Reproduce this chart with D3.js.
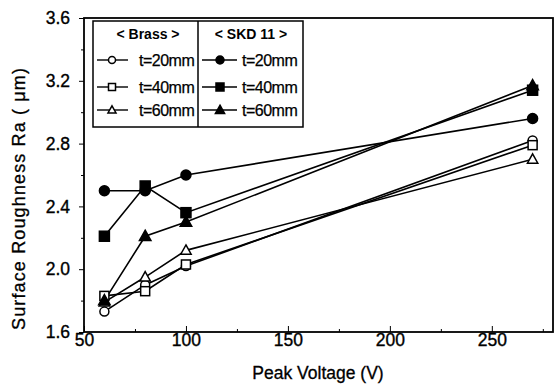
<!DOCTYPE html>
<html><head><meta charset="utf-8">
<script src="https://cdn.jsdelivr.net/npm/d3@7"></script>
<style>body{margin:0;background:#fff}text{font-family:"Liberation Sans",Arial,sans-serif;fill:#000}</style>
</head><body><svg id="c" width="555" height="392"></svg>
<script>
const voltages = [60, 80, 100, 270];
const brass20 = [1.73, 1.90, 2.02, 2.82];
const brass40 = [1.83, 1.86, 2.03, 2.79];
const brass60 = [1.79, 1.95, 2.12, 2.70];
const skd20 = [2.50, 2.50, 2.60, 2.96];
const skd40 = [2.21, 2.53, 2.36, 3.14];
const skd60 = [1.80, 2.21, 2.30, 3.17];
const xTicks = [50, 100, 150, 200, 250];
const yTicks = [1.6, 2.0, 2.4, 2.8, 3.2, 3.6];
const legendLabels = ["t=20mm", "t=40mm", "t=60mm"];

const series = [
  {v: brass20, shape: "circle", fill: false},
  {v: brass40, shape: "square", fill: false},
  {v: brass60, shape: "triangle", fill: false},
  {v: skd20, shape: "circle", fill: true},
  {v: skd40, shape: "square", fill: true},
  {v: skd60, shape: "triangle", fill: true}
];

const svg = d3.select("#c");
const L = 84, R = 553, T = 18, B = 332;
const x = d3.scaleLinear().domain([50, 280]).range([L, R]);
const y = d3.scaleLinear().domain([1.6, 3.6]).range([B, T]);

// frame
svg.append("rect").attr("x", L).attr("y", T).attr("width", R - L).attr("height", B - T)
  .attr("fill", "none").attr("stroke", "#000").attr("stroke-width", 1.8);

// x axis: ticks inward
const xa = svg.append("g").attr("transform", `translate(0,${B})`)
  .call(d3.axisBottom(x).tickValues(xTicks).tickSize(-6).tickPadding(2).tickFormat(d3.format("d")));
xa.select(".domain").remove();
xa.selectAll("text").attr("font-size", 17.5).attr("stroke", "#000").attr("stroke-width", 0.35);
svg.append("g").attr("transform", `translate(0,${B})`)
  .call(d3.axisBottom(x).tickValues([75,125,175,225,275]).tickSize(-3).tickFormat(""))
  .select(".domain").remove();

// y axis: ticks outward
const ya = svg.append("g").attr("transform", `translate(${L},0)`)
  .call(d3.axisLeft(y).tickValues(yTicks).tickSize(5).tickPadding(9).tickFormat(d3.format(".1f")));
ya.select(".domain").remove();
ya.selectAll("text").attr("font-size", 17.5).attr("stroke", "#000").attr("stroke-width", 0.35);
svg.append("g").attr("transform", `translate(${L},0)`)
  .call(d3.axisLeft(y).tickValues([1.8,2.2,2.6,3.0,3.4]).tickSize(3).tickFormat(""))
  .select(".domain").remove();

svg.append("text").attr("x", 318).attr("y", 379).attr("text-anchor", "middle")
  .attr("font-size", 17.5).attr("stroke", "#000").attr("stroke-width", 0.3).text("Peak Voltage (V)");
svg.append("text").attr("transform", "translate(25,199) rotate(-90)").attr("text-anchor", "middle")
  .attr("font-size", 18).attr("textLength", 262).attr("lengthAdjust", "spacing")
  .attr("stroke", "#000").attr("stroke-width", 0.3).text("Surface Roughness Ra ( μm)");

function marker(g, shape, fill, cx, cy, s) {
  const st = {fill: fill ? "#000" : "#fff", stroke: "#000", "stroke-width": 1.5};
  let el;
  if (shape === "circle") el = g.append("circle").attr("cx", cx).attr("cy", cy).attr("r", s);
  else if (shape === "square") el = g.append("rect").attr("x", cx - s).attr("y", cy - s).attr("width", 2*s).attr("height", 2*s);
  else el = g.append("path").attr("d", `M${cx},${cy - s*1.2}L${cx + s*1.15},${cy + s*0.85}L${cx - s*1.15},${cy + s*0.85}Z`);
  Object.entries(st).forEach(([k, v]) => el.attr(k, v));
}

const line = d3.line().x((d, i) => x(voltages[i])).y(d => y(d));
const plot = svg.append("g");
series.forEach(s => {
  plot.append("path").attr("d", line(s.v)).attr("fill", "none").attr("stroke", "#000").attr("stroke-width", 1.6);
});
series.forEach(s => {
  s.v.forEach((d, i) => marker(plot, s.shape, s.fill, x(voltages[i]), y(d), s.fill ? 5 : 4.5));
});

// legend
const lg = svg.append("g");
lg.append("rect").attr("x", 93).attr("y", 21).attr("width", 210).attr("height", 106)
  .attr("fill", "#fff").attr("stroke", "#000").attr("stroke-width", 1.5);
lg.append("line").attr("x1", 198).attr("x2", 198).attr("y1", 21).attr("y2", 127).attr("stroke", "#000").attr("stroke-width", 1.5);
lg.append("text").attr("x", 148).attr("y", 39).attr("text-anchor", "middle").attr("font-size", 14).attr("font-weight", "bold").text("< Brass >");
lg.append("text").attr("x", 251).attr("y", 39).attr("text-anchor", "middle").attr("font-size", 14).attr("font-weight", "bold").text("< SKD 11 >");
const rowsY = [60, 87, 110];
series.forEach((s, k) => {
  const col = k < 3 ? 0 : 1, row = k % 3;
  const x0 = col === 0 ? 97 : 202;
  const yy = rowsY[row];
  lg.append("line").attr("x1", x0).attr("x2", x0 + (col === 0 ? 31 : 35)).attr("y1", yy).attr("y2", yy).attr("stroke", "#000").attr("stroke-width", 1.4);
  marker(lg, s.shape, s.fill, x0 + (col === 0 ? 15 : 18), yy, s.fill ? 4 : 3.5);
  lg.append("text").attr("x", col === 0 ? 139 : 242).attr("y", yy + 6).attr("font-size", 16).attr("letter-spacing", -0.5)
    .attr("stroke", "#000").attr("stroke-width", 0.25).text(legendLabels[row]);
});
</script></body></html>
